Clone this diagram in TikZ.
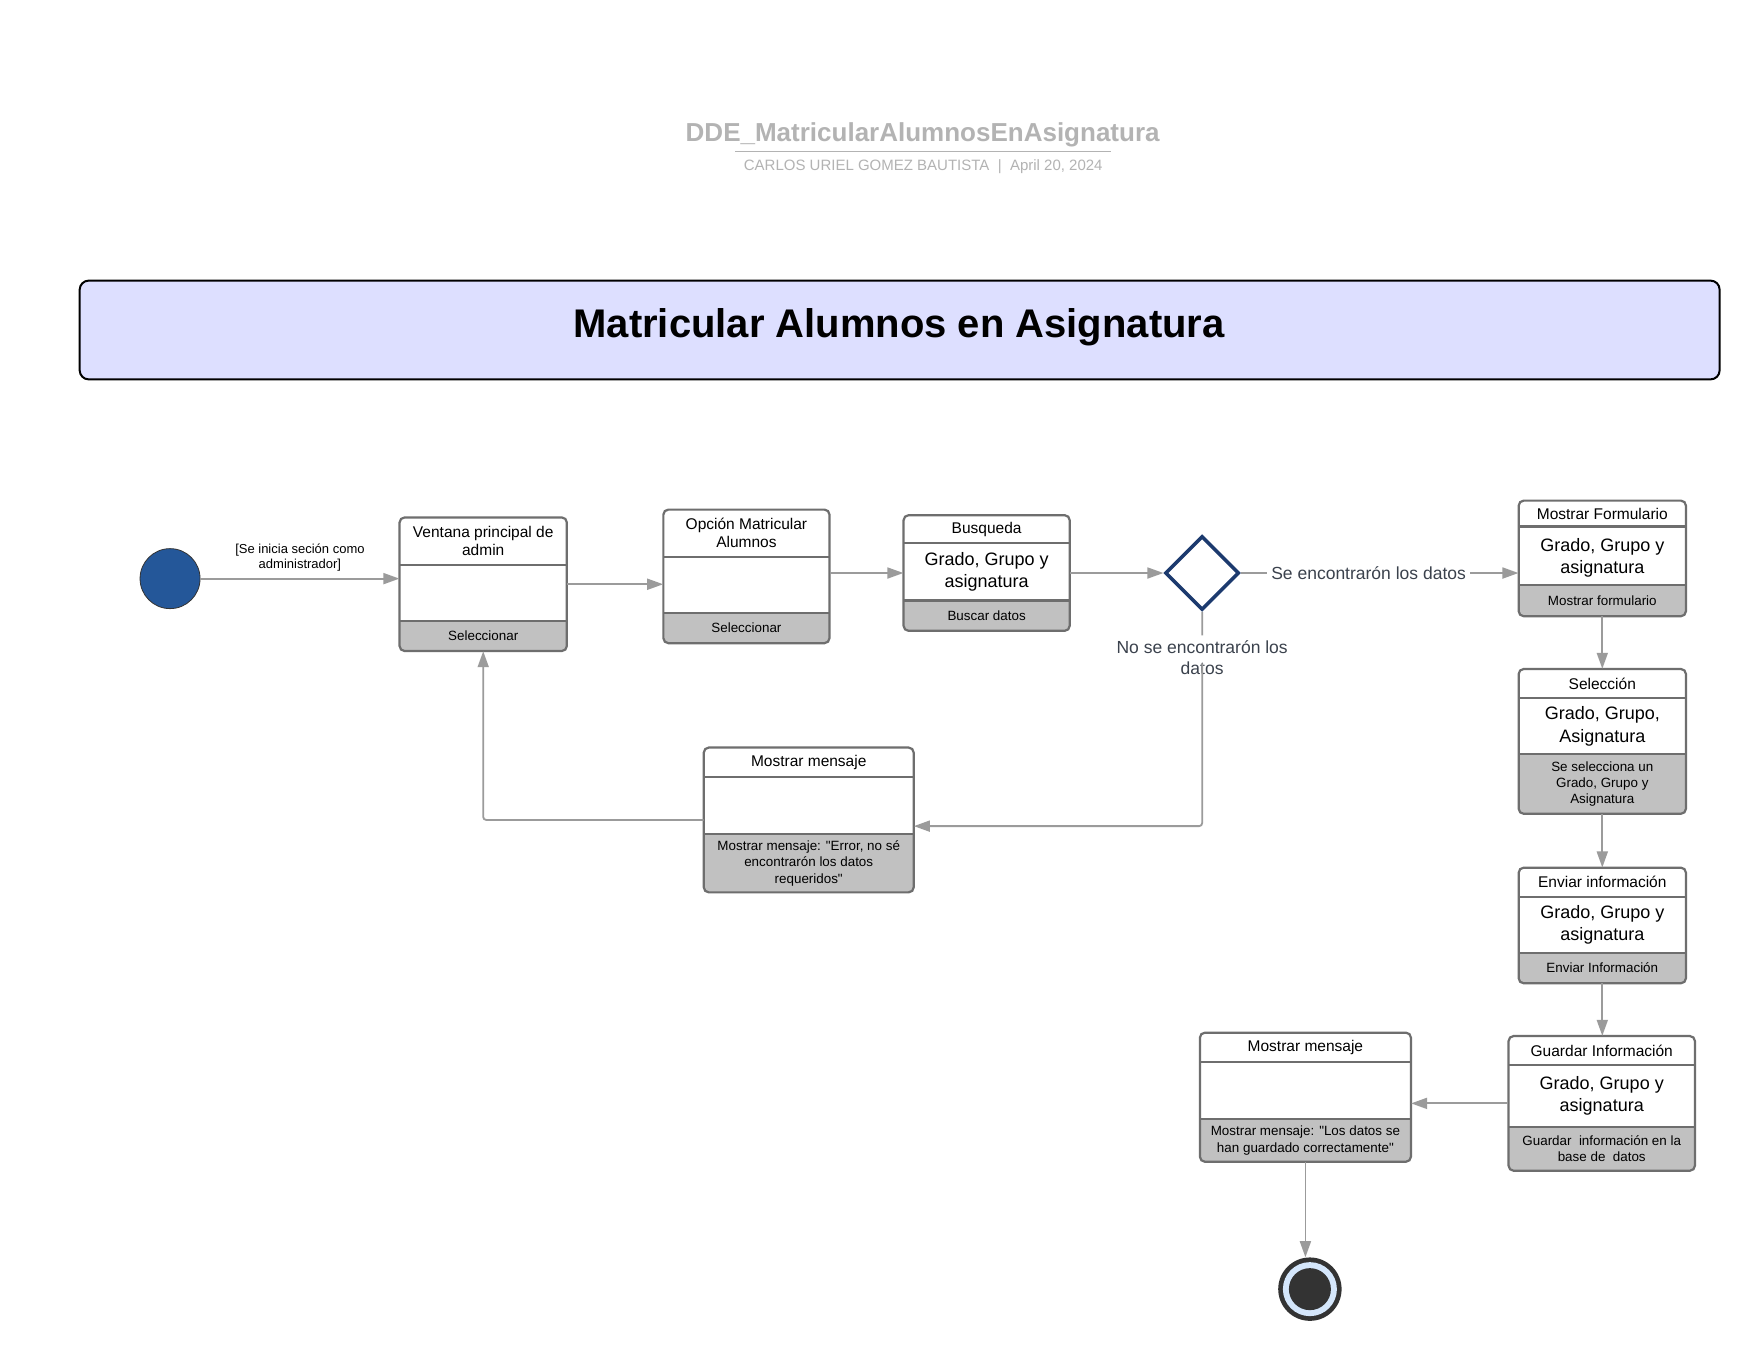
\documentclass[tikz,border=0pt]{standalone}
\usepackage{fontspec}
\setmainfont{Liberation Sans}[Ligatures=TeXOff]
\usetikzlibrary{arrows.meta,shapes.geometric,fit}
\definecolor{boxline}{HTML}{6E6E6E}
\definecolor{boxgray}{HTML}{C1C1C1}
\definecolor{arrgray}{HTML}{9B9B9B}
\definecolor{lav}{HTML}{DDDFFF}
\definecolor{startblue}{HTML}{245799}
\definecolor{navy}{HTML}{1C3A6E}
\definecolor{lblc}{HTML}{3B424D}
\definecolor{enddark}{HTML}{333333}
\definecolor{endlight}{HTML}{D4E6FB}
\definecolor{hdrgray}{HTML}{B3B3B3}
\newcommand\fs[2]{\fontsize{#1}{#2}\selectfont}
% name x1 x2 y1 yh ym y2
\newcommand\stbox[7]{%
  \node[fit={(#2,#4) (#3,#7)}, inner sep=0pt] (#1) {};
  \begin{scope}
    \clip (#2-5,#6) rectangle (#3+5,#7+5);
    \fill[boxgray, rounded corners=5pt] (#2,#4) rectangle (#3,#7);
  \end{scope}
  \draw[boxline] (#2,#5) -- (#3,#5) (#2,#6) -- (#3,#6);
  \draw[boxline, rounded corners=5pt] (#2,#4) rectangle (#3,#7);
  \coordinate (#1-h) at ({(#2+#3)/2},{(#4+#5)/2});
  \coordinate (#1-m) at ({(#2+#3)/2},{(#5+#6)/2});
  \coordinate (#1-b) at ({(#2+#3)/2},{(#6+#7)/2});
}
\tikzset{
  boxline/.style={draw=boxline, line width=2.2pt},
  hdr/.style={font=\fs{15.5}{18}, align=center, inner sep=0pt},
  midt/.style={font=\fs{18}{22.4}, align=center, inner sep=0pt},
  bot/.style={font=\fs{13.4}{16.3}, align=center, inner sep=0pt},
  arr/.style={draw=arrgray, line width=1.8pt, -{Triangle[length=16pt,width=11pt]}},
  brl/.style={font=\fs{17.5}{21}, text=lblc, align=center},
}
\begin{document}
\begin{tikzpicture}[x=1.1224pt, y=-1.1224pt]
\useasboundingbox (0,0) rectangle (1568,1211.6);
\fill[white] (0,0) rectangle (1568,1211.6);

% header
\node[font=\bfseries\fs{26}{30}, text=hdrgray, anchor=base] (ddet) at (822,126) {DDE\_MatricularAlumnosEnAsignatura};
\draw[hdrgray, line width=1.8pt] (655,135) -- (990,135);
\node[font=\fs{15}{18}, text=hdrgray, anchor=base] (subt) at (822.5,152) {CARLOS URIEL GOMEZ BAUTISTA\ \ |\ \ April 20, 2024};

% banner
\node[draw=black, line width=2pt, fill=lav, rounded corners=9pt, inner sep=0pt, fit={(71,250) (1532,338)}] (banner) {};
\node[font=\bfseries\fs{40}{48}, anchor=base] (bantitle) at (801,301) {Matricular Alumnos en Asignatura};

% start
\node[circle, minimum size=60pt, inner sep=0pt, fill=startblue, draw=enddark, line width=0.8pt] (start) at (151.5,515.5) {};

% boxes
\stbox{ven}{356}{505}{461}{503}{553}{580}
\node[hdr] (ven-ht) at (ven-h) {Ventana principal de\\admin};
\node[bot] (ven-bt) at (ven-b) {Seleccionar};

\stbox{opc}{591}{739}{454}{496}{546}{573}
\node[hdr] (opc-ht) at (opc-h) {Opción Matricular\\Alumnos};
\node[bot] (opc-bt) at (opc-b) {Seleccionar};

\stbox{bus}{805}{953}{459}{484}{535}{562}
\node[hdr] (bus-ht) at (bus-h) {Busqueda};
\node[midt] (bus-mt) at (bus-m) {Grado, Grupo y\\asignatura};
\node[bot] (bus-bt) at (bus-b) {Buscar datos};

\node[diamond, draw=navy, line width=3.5pt, minimum width=74pt, minimum height=74pt, inner sep=0pt] (dia) at (1071,510.5) {};

\stbox{mf}{1353}{1502}{446}{469}{521}{549}
\node[hdr] (mf-ht) at (mf-h) {Mostrar Formulario};
\node[midt] (mf-mt) at ([yshift=-2pt]mf-m) {Grado, Grupo y\\asignatura};
\node[bot] (mf-bt) at (mf-b) {Mostrar formulario};

\stbox{sel}{1353}{1502}{596}{622}{672}{725}
\node[hdr] (sel-ht) at (sel-h) {Selección};
\node[midt] (sel-mt) at (sel-m) {Grado, Grupo,\\Asignatura};
\node[bot] (sel-bt) at (sel-b) {Se selecciona un\\Grado, Grupo y\\Asignatura};

\stbox{env}{1353}{1502}{773}{799}{849}{876}
\node[hdr] (env-ht) at (env-h) {Enviar información};
\node[midt] (env-mt) at (env-m) {Grado, Grupo y\\asignatura};
\node[bot] (env-bt) at (env-b) {Enviar Información};

\stbox{gua}{1344}{1510}{923}{949}{1004}{1043}
\node[hdr] (gua-ht) at (gua-h) {Guardar Información};
\node[midt] (gua-mt) at (gua-m) {Grado, Grupo y\\asignatura};
\node[bot] (gua-bt) at (gua-b) {Guardar\ \ información en la\\base de\ \ datos};

\stbox{mm1}{627}{814}{666}{692}{743}{795}
\node[hdr] (mm1-ht) at (mm1-h) {Mostrar mensaje};
\node[bot] (mm1-bt) at (mm1-b) {Mostrar mensaje: "Error, no sé\\encontrarón los datos\\requeridos"};

\stbox{mm2}{1069}{1257}{920}{946}{997}{1035}
\node[hdr] (mm2-ht) at (mm2-h) {Mostrar mensaje};
\node[bot] (mm2-bt) at (mm2-b) {Mostrar mensaje: "Los datos se\\han guardado correctamente"};

% end
\node[circle, minimum size=63.4pt, inner sep=0pt, fill=enddark] (end) at (1167,1148.5) {};
\fill[endlight] (end.center) circle (27pt);
\fill[enddark] (end.center) circle (21pt);

% connectors
\draw[arr] (start) -- node[font=\fs{13}{15.5}, align=center, above=3pt, pos=0.5, text=black] (guard) {[Se inicia seción como\\administrador]} (start -| ven.west);
\draw[arr] (ven.east) -- (ven.east -| opc.west);
\draw[arr] (opc.east |- bus) -- (bus.west);
\draw[arr] (bus.east) -- (dia.west);
\draw[arr] (dia.east) -- node[brl, fill=white, pos=0.46, inner sep=4pt] (yes) {Se encontrarón los datos} (dia.east -| mf.west);
\coordinate (g1) at (1071,566);
\coordinate (g2) at (1071,591);
\coordinate (c2) at (1071,736);
\node[brl, inner sep=0pt] (no) at (1071,586) {No se encontrarón los\\datos};
\draw[arr, rounded corners=3pt] (dia.south) -- (g1) (g2) -- (c2) -- (c2 -| mm1.east);
\draw[arr, rounded corners=3pt] (mm1.west) -- (mm1.west -| ven.south) -- (ven.south);
\draw[arr] (mf.south) -- (sel.north);
\draw[arr] (sel.south) -- (env.north);
\draw[arr] (env.south) -- (env.south |- gua.north);
\draw[arr] (gua.west) -- (gua.west -| mm2.east);
\draw[arr] (mm2.south) -- (mm2.south |- end.north);
\end{tikzpicture}
\end{document}
